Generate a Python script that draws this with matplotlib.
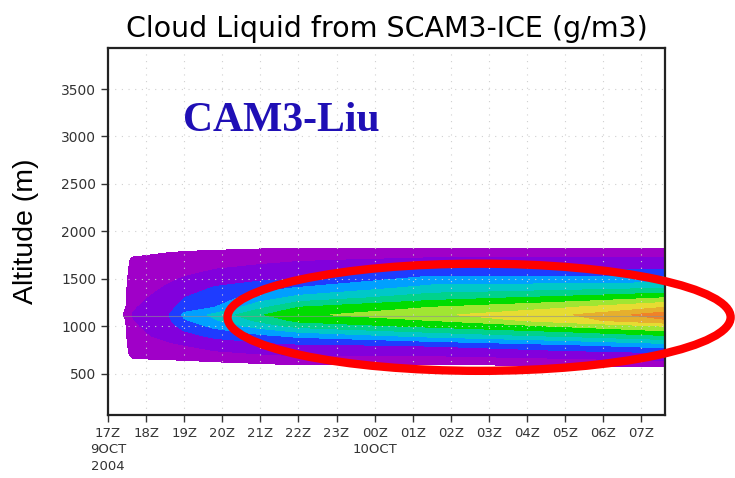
import numpy as np
import matplotlib
matplotlib.use("Agg")
import matplotlib.pyplot as plt
from matplotlib.patches import Ellipse

# ----- data -----
# hours after 17Z 9 OCT 2004
times = [0.4, 0.65, 1.6, 2.0, 2.8, 4.0, 5.0, 8.5, 12.0, 14.63]
heights = [550, 600, 650, 700, 800, 900, 1000, 1060, 1120, 1200,
           1300, 1400, 1500, 1600, 1700, 1800, 1850, 1900]
# cloud liquid (g/m3), one row per time, one column per height
cloud_liquid = [
    [0, 0, 0, 0, 0, 0, 0, 0, 0.0055, 0, 0, 0, 0, 0, 0, 0, 0, 0],
    [0, 0, 0.004, 0.008, 0.011, 0.014, 0.017, 0.019, 0.021, 0.018,
     0.015, 0.013, 0.011, 0.009, 0.007, 0, 0, 0],
    [0, 0, 0.0055, 0.009, 0.017, 0.026, 0.032, 0.037, 0.040, 0.033,
     0.027, 0.022, 0.018, 0.013, 0.011, 0.003, 0, 0],
    [0, 0, 0.006, 0.011, 0.020, 0.033, 0.047, 0.057, 0.065, 0.050,
     0.040, 0.030, 0.021, 0.016, 0.012, 0.004, 0, 0],
    [0, 0.002, 0.008, 0.015, 0.027, 0.045, 0.065, 0.078, 0.085, 0.060,
     0.050, 0.042, 0.031, 0.020, 0.012, 0.005, 0, 0],
    [0, 0.004, 0.011, 0.019, 0.033, 0.056, 0.088, 0.105, 0.118, 0.095,
     0.070, 0.053, 0.036, 0.025, 0.015, 0.007, 0, 0],
    [0, 0.006, 0.013, 0.022, 0.037, 0.065, 0.106, 0.125, 0.135, 0.120,
     0.086, 0.062, 0.039, 0.029, 0.018, 0.009, 0, 0],
    [0, 0.005, 0.013, 0.022, 0.042, 0.087, 0.124, 0.140, 0.156, 0.140,
     0.112, 0.087, 0.067, 0.043, 0.023, 0.009, 0, 0],
    [0, 0.008, 0.018, 0.027, 0.057, 0.104, 0.142, 0.170, 0.177, 0.158,
     0.125, 0.093, 0.066, 0.040, 0.024, 0.009, 0, 0],
    [0, 0.011, 0.022, 0.032, 0.071, 0.119, 0.160, 0.197, 0.212, 0.180,
     0.140, 0.100, 0.066, 0.038, 0.024, 0.0095, 0, 0],
]
grid_level = 1110  # model level drawn as a thin line

levels = [0.005, 0.02, 0.04, 0.06, 0.08, 0.10, 0.12, 0.14, 0.16, 0.18, 0.20, 0.22]
colors = ['#a000c8', '#8200dc', '#1e3cff', '#00a0ff', '#00c8c8', '#00d28c',
          '#00dc00', '#a0e632', '#e6dc32', '#e6af2d', '#f08228']

xticks = list(range(15))
xticklabels = ['17Z\n9OCT\n2004', '18Z', '19Z', '20Z', '21Z', '22Z', '23Z',
               '00Z\n10OCT', '01Z', '02Z', '03Z', '04Z', '05Z', '06Z', '07Z']
yticks = [500, 1000, 1500, 2000, 2500, 3000, 3500]


def main():
    fig = plt.figure(figsize=(7.35, 4.78), dpi=100)
    ax = fig.add_axes([0.147, 0.132, 0.758, 0.768])

    ql = np.array(cloud_liquid).T
    ax.contourf(times, heights, ql, levels=levels, colors=colors)
    ax.plot([times[0], times[-1]], [grid_level, grid_level],
            color='#909090', alpha=0.6, lw=0.8)

    ax.set_xlim(0, 14.63)
    ax.set_ylim(65, 3935)
    ax.set_xticks(xticks)
    ax.set_xticklabels(xticklabels, fontsize=9.5, color='#333333',
                       linespacing=1.35, va='top')
    ax.set_yticks(yticks)
    ax.set_yticklabels([str(v) for v in yticks], fontsize=10, color='#333333')
    ax.tick_params(direction='out', length=5, width=1, color='#333333',
                   top=False, right=False)
    ax.grid(True, color='#d0d0d0', linestyle=(0, (1, 5)), lw=0.8)
    for sp in ax.spines.values():
        sp.set_linewidth(1.6)
        sp.set_color('#222222')

    ax.set_title('Cloud Liquid from SCAM3-ICE (g/m3)', fontsize=20.5, pad=8)
    ax.set_ylabel('Altitude (m)', fontsize=20.5, family='Liberation Sans',
                  labelpad=16)

    ax.text(0.135, 0.80, 'CAM3-Liu', transform=ax.transAxes,
            family='Liberation Serif', weight='bold', fontsize=30,
            color='#1f0fb5', va='center', ha='left')

    ell = Ellipse((0.666, 0.266), 0.903, 0.292, transform=ax.transAxes,
                  fill=False, ec='#ff0000', lw=6, clip_on=False, zorder=5)
    ax.add_patch(ell)

    fig.savefig('out.png', dpi=100)


if __name__ == '__main__':
    main()
